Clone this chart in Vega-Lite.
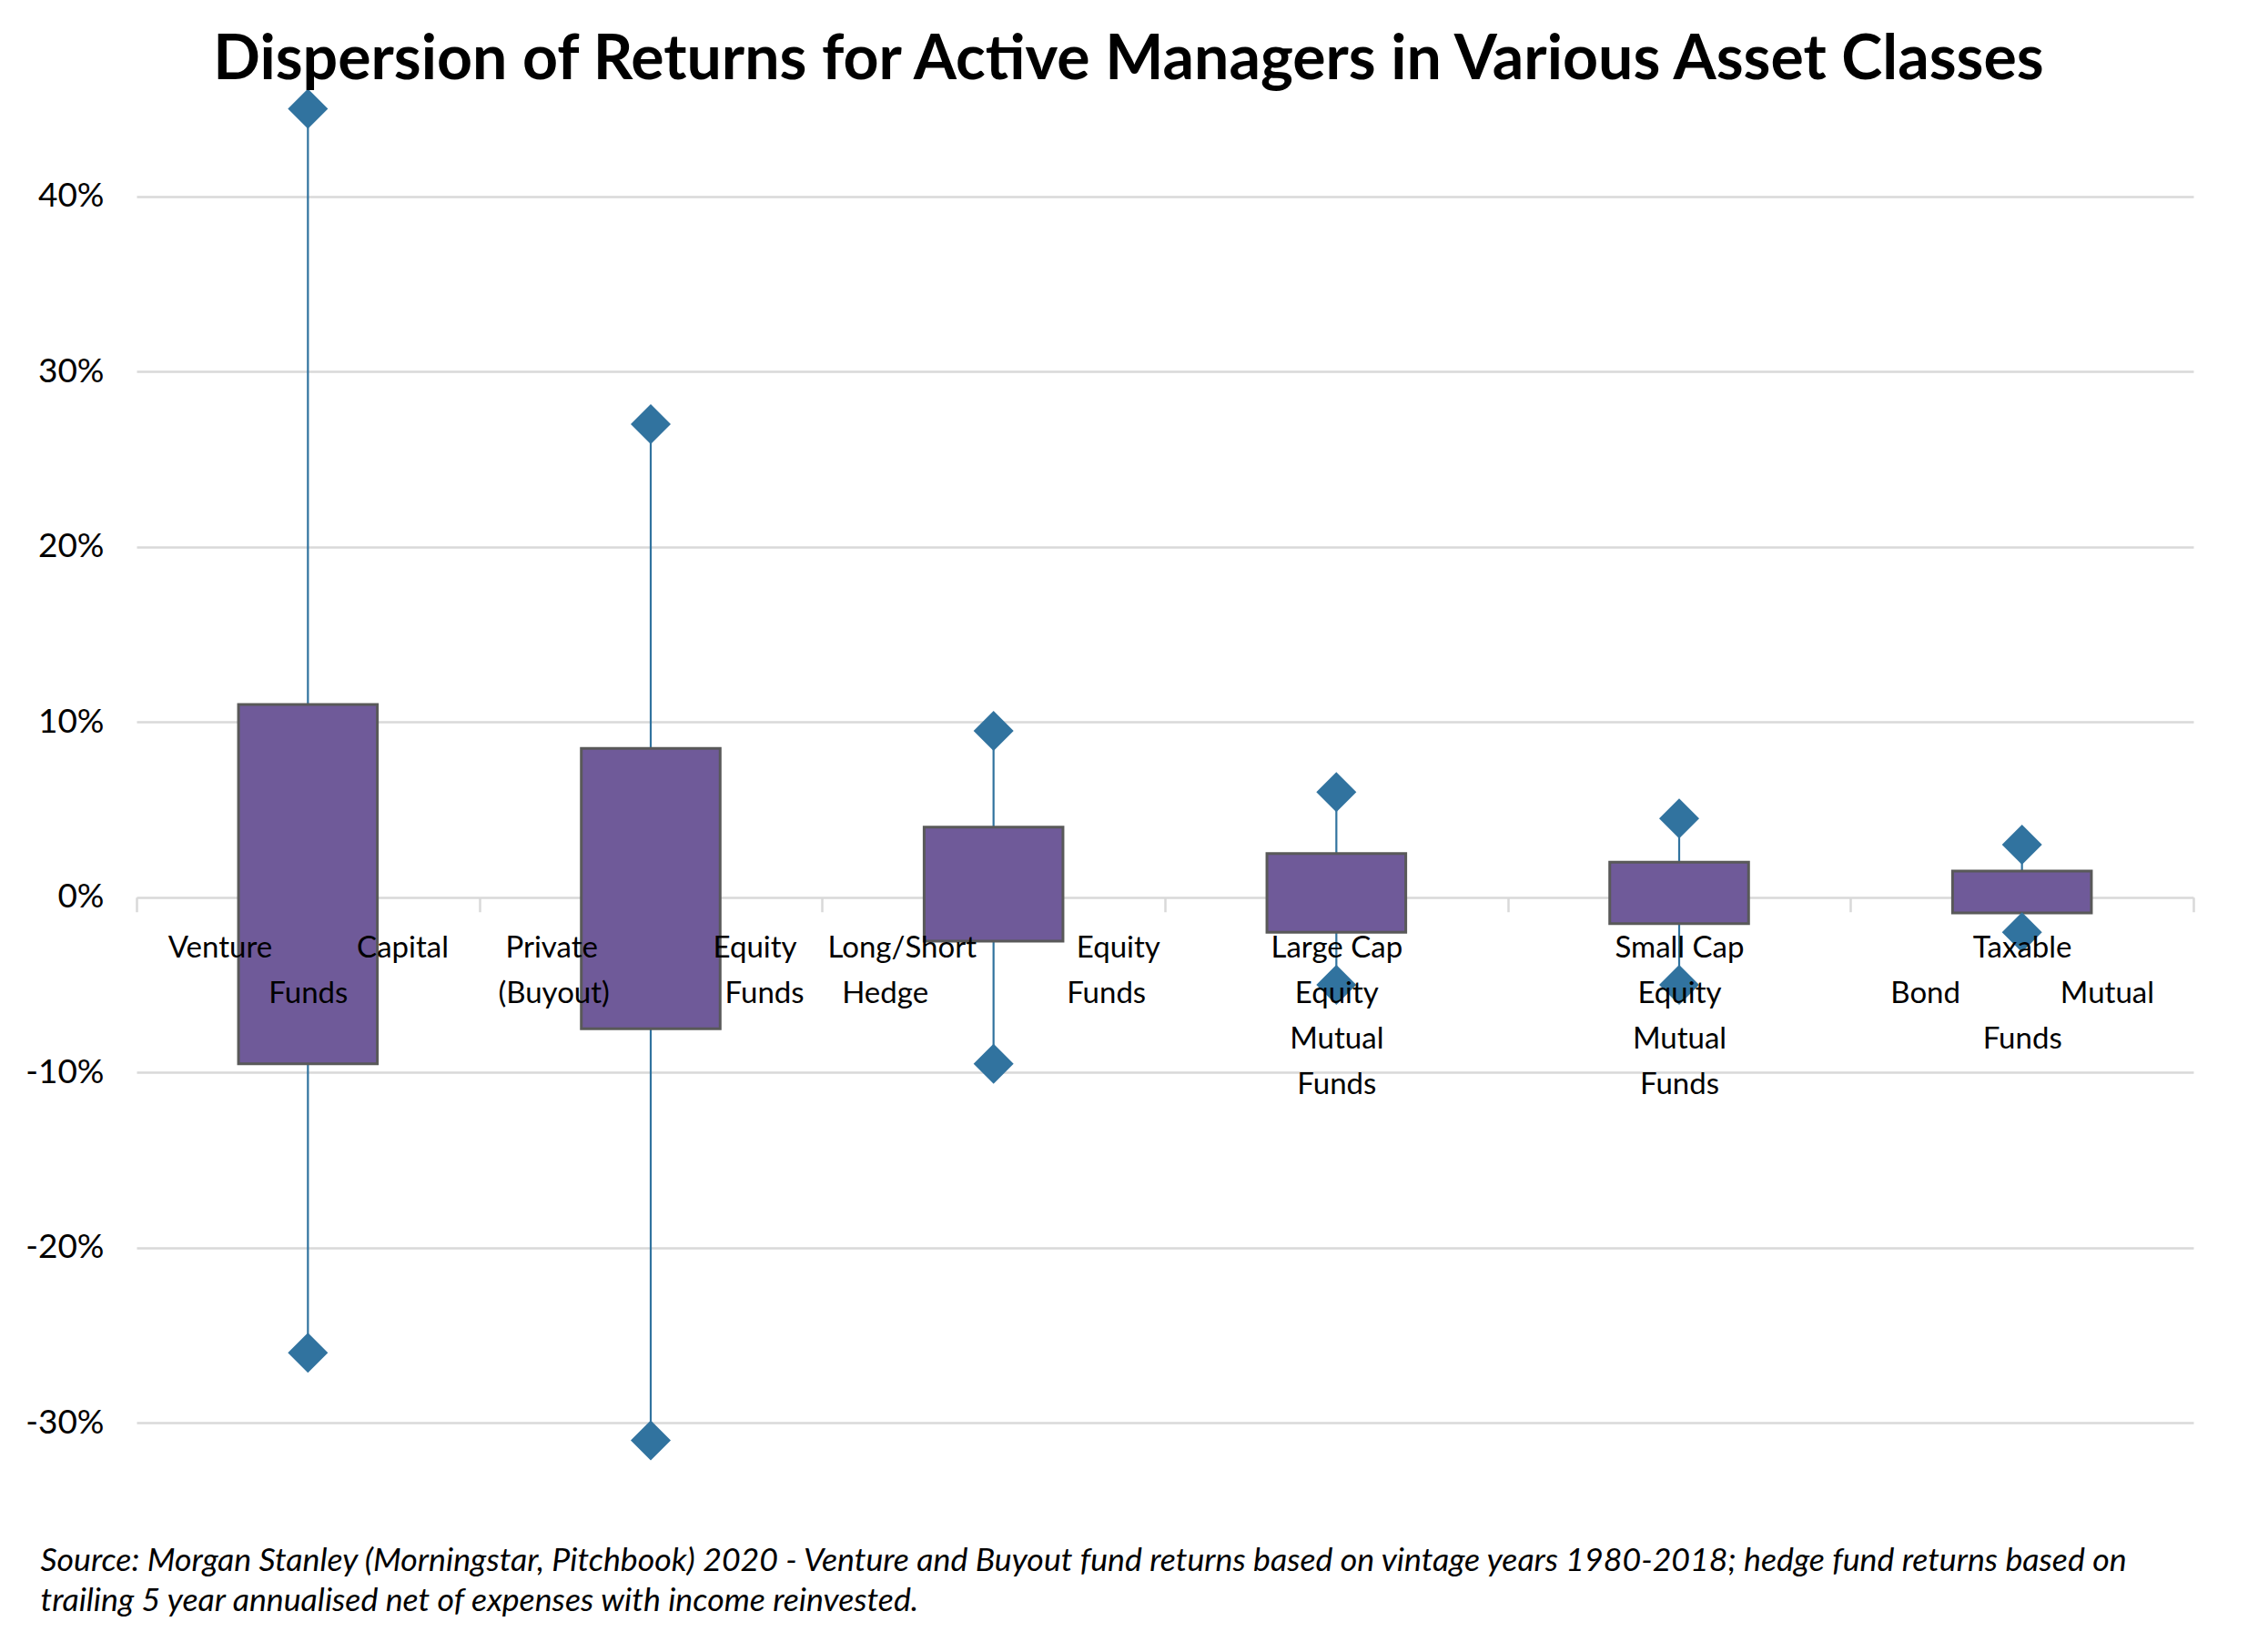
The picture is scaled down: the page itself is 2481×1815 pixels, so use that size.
{
  "$schema": "https://vega.github.io/schema/vega-lite/v6.json",
  "autosize": {"type": "none"},
  "width": 2260,
  "height": 1540,
  "padding": {"left": 150, "top": 81, "right": 71, "bottom": 194},
  "background": "white",
  "config": {"view": {"stroke": null}, "font": "Lato"},
  "title": {
    "text": "Dispersion of Returns for Active Managers in Various Asset Classes",
    "font": "Lato",
    "fontSize": 68,
    "fontWeight": "bold",
    "color": "#000000",
    "anchor": "middle",
    "frame": "group",
    "baseline": "alphabetic",
    "offset": -74,
    "dx": -40
  },
  "data": {
    "values": [
      {"asset": "Venture Capital Funds", "min": -0.26, "q1": -0.095, "q3": 0.11, "max": 0.45},
      {"asset": "Private (Buyout) Equity Funds", "min": -0.31, "q1": -0.075, "q3": 0.085, "max": 0.27},
      {"asset": "Long/Short Equity Hedge Funds", "min": -0.095, "q1": -0.025, "q3": 0.04, "max": 0.095},
      {"asset": "Large Cap Equity Mutual Funds", "min": -0.05, "q1": -0.02, "q3": 0.025, "max": 0.06},
      {"asset": "Small Cap Equity Mutual Funds", "min": -0.05, "q1": -0.015, "q3": 0.02, "max": 0.045},
      {"asset": "Taxable Bond Mutual Funds", "min": -0.02, "q1": -0.009, "q3": 0.015, "max": 0.03}
    ]
  },
  "encoding": {
    "x": {
      "field": "asset",
      "type": "nominal",
      "sort": null,
      "scale": {"paddingInner": 0, "paddingOuter": 0},
      "axis": {
        "orient": "bottom",
        "offset": -635.25,
        "zindex": 1,
        "domain": false,
        "ticks": true,
        "tickBand": "extent",
        "tickColor": "#d9d9d9",
        "tickWidth": 2.5,
        "tickSize": 16,
        "labelAngle": 0,
        "labelFont": "Lato",
        "labelFontSize": 33,
        "labelColor": "#000000",
        "labelPadding": 24,
        "labelBaseline": "top",
        "labelLineHeight": 50,
        "labelLimit": 0,
        "labelOverlap": false,
        "labelBound": false,
        "labelFlush": false,
        "labelExpr": "datum.value == 'Venture Capital Funds' ? ['Venture\u00a0\u00a0\u00a0\u00a0\u00a0\u00a0\u00a0\u00a0\u00a0\u00a0\u00a0Capital', 'Funds'] : datum.value == 'Private (Buyout) Equity Funds' ? ['Private\u00a0\u00a0\u00a0\u00a0\u00a0\u00a0\u00a0\u00a0\u00a0\u00a0\u00a0\u00a0\u00a0\u00a0\u00a0Equity', '(Buyout)\u00a0\u00a0\u00a0\u00a0\u00a0\u00a0\u00a0\u00a0\u00a0\u00a0\u00a0\u00a0\u00a0\u00a0\u00a0Funds'] : datum.value == 'Long/Short Equity Hedge Funds' ? ['Long/Short\u00a0\u00a0\u00a0\u00a0\u00a0\u00a0\u00a0\u00a0\u00a0\u00a0\u00a0\u00a0\u00a0Equity', 'Hedge\u00a0\u00a0\u00a0\u00a0\u00a0\u00a0\u00a0\u00a0\u00a0\u00a0\u00a0\u00a0\u00a0\u00a0\u00a0\u00a0\u00a0\u00a0Funds'] : datum.value == 'Large Cap Equity Mutual Funds' ? ['Large Cap', 'Equity', 'Mutual', 'Funds'] : datum.value == 'Small Cap Equity Mutual Funds' ? ['Small Cap', 'Equity', 'Mutual', 'Funds'] : datum.value == 'Taxable Bond Mutual Funds' ? ['Taxable', 'Bond\u00a0\u00a0\u00a0\u00a0\u00a0\u00a0\u00a0\u00a0\u00a0\u00a0\u00a0\u00a0\u00a0Mutual', 'Funds'] : ''",
        "title": ["Source: Morgan Stanley (Morningstar, Pitchbook) 2020 - Venture and Buyout fund returns based on vintage years 1980-2018; hedge fund returns based on", "trailing 5 year annualised net of expenses with income reinvested."],
        "titleFont": "Lato",
        "titleFontSize": 35.7,
        "titleFontStyle": "italic",
        "titleFontWeight": "normal",
        "titleColor": "#000000",
        "titleAnchor": "start",
        "titleAlign": "left",
        "titleBaseline": "top",
        "titleAngle": 0,
        "titleX": -106,
        "titleY": 712,
        "titleLineHeight": 44
      }
    }
  },
  "layer": [
    {
      "mark": {"type": "rule", "color": "#31739f", "strokeWidth": 2.2},
      "encoding": {
        "y": {
          "field": "min",
          "type": "quantitative",
          "title": null,
          "scale": {"domain": [-0.33, 0.47], "nice": false, "zero": false},
          "axis": {
            "values": [-0.3, -0.2, -0.1, 0, 0.1, 0.2, 0.3, 0.4],
            "domain": false,
            "ticks": false,
            "grid": true,
            "gridColor": "#d9d9d9",
            "gridWidth": 2.5,
            "zindex": 0,
            "labelFont": "Lato",
            "labelFontSize": 37,
            "labelColor": "#000000",
            "labelPadding": 36,
            "labelExpr": "replace(format(datum.value, '.0%'), '\u2212', '-')"
          }
        },
        "y2": {"field": "max"}
      }
    },
    {
      "mark": {"type": "bar", "color": "#6f5a99", "stroke": "#595959", "strokeWidth": 3, "width": {"band": 0.405}},
      "encoding": {
        "y": {"field": "q1", "type": "quantitative"},
        "y2": {"field": "q3"}
      }
    },
    {
      "mark": {"type": "point", "shape": "diamond", "filled": true, "size": 1936, "color": "#31739f", "opacity": 1},
      "encoding": {"y": {"field": "max", "type": "quantitative"}}
    },
    {
      "mark": {"type": "point", "shape": "diamond", "filled": true, "size": 1936, "color": "#31739f", "opacity": 1},
      "encoding": {"y": {"field": "min", "type": "quantitative"}}
    }
  ]
}
